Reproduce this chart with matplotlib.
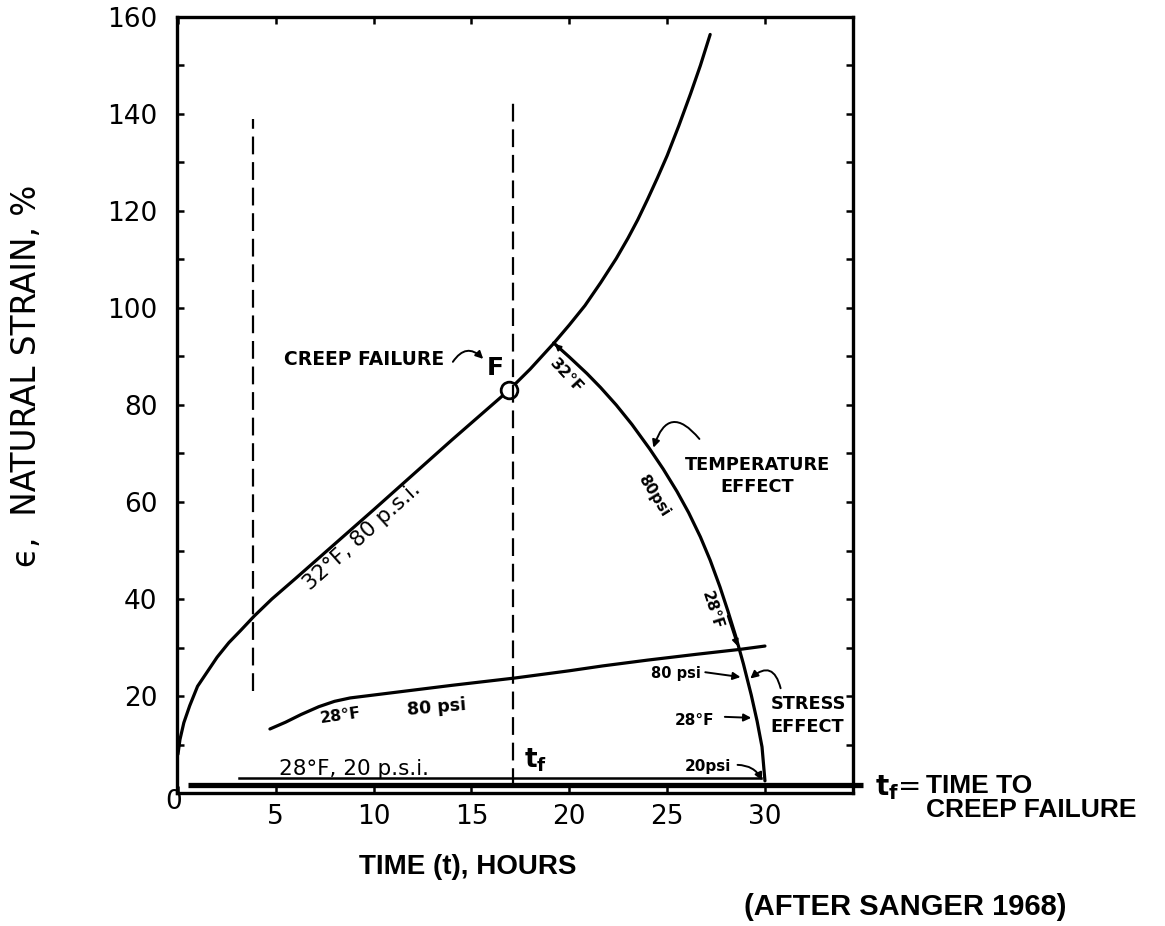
import numpy as np
import matplotlib.pyplot as plt
from matplotlib.patches import FancyArrowPatch

plt.rcParams['font.family'] = ['DejaVu Sans']

# creep curve at 32°F, 80 psi (runs on past failure point F)
t_32_80 = [0.0, 0.1, 0.3, 0.6, 1.0, 1.5, 2.0, 2.6, 3.2, 3.9, 4.8, 6.0, 8.0, 10.0, 12.0,
           14.0, 16.9, 18.0, 19.2, 20.0, 20.8, 21.6, 22.4, 23.0, 23.5, 24.0, 24.5, 25.0,
           25.6, 26.2, 26.7, 27.2]
e_32_80 = [8.0, 11.0, 14.5, 18.0, 22.0, 25.0, 28.0, 31.0, 33.5, 36.5, 40.0, 44.2, 51.3,
           58.4, 65.6, 72.8, 83.0, 87.4, 92.7, 96.5, 100.5, 105.2, 110.2, 114.4, 118.2,
           122.4, 126.8, 131.4, 137.6, 144.2, 150.0, 156.4]

# creep curve at 28°F, 80 psi
t_28_80 = [4.7, 5.5, 6.3, 7.2, 8.0, 8.8, 10.0, 12.0, 14.0, 17.2, 20.0, 21.7, 24.0, 26.5, 28.7, 30.0]
e_28_80 = [13.2, 14.6, 16.2, 17.8, 18.9, 19.6, 20.2, 21.2, 22.2, 23.7, 25.2, 26.2, 27.4, 28.6, 29.6, 30.3]

# temperature / stress effect path (failure times vs strain)
t_effect = [19.2, 20.0, 20.9, 21.6, 22.4, 23.2, 24.1, 24.8, 25.5, 26.1, 26.7, 27.2, 27.7,
            28.1, 28.5, 28.9, 29.3, 29.6, 29.85, 30.0]
e_effect = [92.8, 89.9, 86.5, 83.6, 80.0, 76.0, 71.0, 66.8, 62.2, 57.8, 52.8, 48.0, 42.5,
            37.6, 32.4, 26.6, 20.2, 14.8, 9.5, 2.5]

# 28°F, 20 psi curve and the heavy base line
t_28_20 = [3.1, 29.8]
e_28_20 = [3.1, 3.1]
t_base = [0.5, 35.0]
e_base = [1.6, 1.6]

# failure point and dashed time markers
t_fail, e_fail = 16.9, 83.0
t_tf, tf_top = 17.1, 143.0
t_early, early_top, early_bottom = 3.85, 139.0, 21.0

x_ticks = [5, 10, 15, 20, 25, 30]
y_ticks = [20, 40, 60, 80, 100, 120, 140, 160]

fig = plt.figure(figsize=(11.65, 9.26), dpi=100)
ax = fig.add_axes([177 / 1165, 1 - 793 / 926, 676 / 1165, 776 / 926])
ax.set_xlim(-0.05, 34.5)
ax.set_ylim(0, 160)

for s in ax.spines.values():
    s.set_linewidth(2.4)

ax.set_xticks(x_ticks)
ax.set_xticklabels([str(v) for v in x_ticks])
ax.set_xticks([0, 5, 10, 15, 20, 25, 30], minor=True)
ax.set_yticks(y_ticks)
ax.set_yticklabels([str(v) for v in y_ticks])
ax.set_yticks(np.arange(10, 160, 20), minor=True)
ax.tick_params(which='both', direction='in', length=5, width=1.8,
               top=True, right=True)
ax.tick_params(axis='x', labelsize=19, pad=8)
ax.tick_params(axis='y', labelsize=19, pad=14)

# curves
ax.plot(t_32_80, e_32_80, color='black', lw=2.3, solid_capstyle='round')
ax.plot(t_28_80, e_28_80, color='black', lw=2.3, solid_capstyle='round')
ax.plot(t_effect, e_effect, color='black', lw=2.3, solid_capstyle='round')
ax.plot(t_28_20, e_28_20, color='black', lw=1.8)
ax.plot(t_base, e_base, color='black', lw=3.8, solid_capstyle='butt', clip_on=False)

ax.plot([t_fail], [e_fail], marker='o', ms=12, mfc='white', mec='black', mew=2)

dash = (0, (8, 3.5))
ax.plot([t_tf, t_tf], [1.5, tf_top], color='black', lw=1.6, linestyle=dash)
ax.plot([t_early, t_early], [early_bottom, early_top], color='black', lw=1.6, linestyle=dash)


def arrow(p0, p1, rad=0.0, lw=1.4, scale=11):
    ax.add_patch(FancyArrowPatch(p0, p1, connectionstyle=f'arc3,rad={rad}',
                                 arrowstyle='-|>', mutation_scale=scale, lw=lw,
                                 color='black', shrinkA=0, shrinkB=0, clip_on=False))


# labels along the curves
ax.text(9.4, 53.0, '32°F, 80 p.s.i.', fontsize=15.5, rotation=42,
        rotation_mode='anchor', ha='center', va='center')
ax.text(9.5, 89.3, 'CREEP FAILURE', fontsize=13.5, fontweight='bold', ha='center', va='center')
arrow((14.05, 88.9), (15.6, 89.5), rad=-0.6)
ax.text(16.2, 87.6, 'F', fontsize=18, fontweight='bold', ha='center', va='center')

ax.text(19.85, 86.0, '32°F', fontsize=11.5, fontweight='bold', rotation=-47,
        rotation_mode='anchor', ha='center', va='center')
arrow((19.8, 90.6), (19.25, 92.6), scale=9)
ax.text(24.3, 61.4, '80psi', fontsize=11, fontweight='bold', rotation=-58,
        rotation_mode='anchor', ha='center', va='center')
ax.text(27.3, 37.7, '28°F', fontsize=11, fontweight='bold', rotation=-72,
        rotation_mode='anchor', ha='center', va='center')
arrow((28.1, 36.5), (28.6, 30.3), scale=9)

ax.text(29.6, 65.4, 'TEMPERATURE\nEFFECT', fontsize=12.8, fontweight='bold',
        ha='center', va='center', multialignment='center', linespacing=1.3)
arrow((26.65, 73.0), (24.3, 71.2), rad=0.9)

ax.text(8.3, 16.0, '28°F', fontsize=11.5, fontweight='bold', rotation=8,
        rotation_mode='anchor', ha='center', va='center')
ax.text(13.2, 17.7, '80 psi', fontsize=12.5, fontweight='bold', rotation=5,
        rotation_mode='anchor', ha='center', va='center')

ax.text(25.45, 24.7, '80 psi', fontsize=10.5, fontweight='bold', ha='center', va='center')
arrow((26.95, 24.9), (28.75, 23.9))
ax.text(32.2, 16.0, 'STRESS\nEFFECT', fontsize=12.8, fontweight='bold',
        ha='center', va='center', multialignment='left', linespacing=1.3)
arrow((30.8, 21.6), (29.25, 23.6), rad=0.8)
ax.text(26.4, 15.0, '28°F', fontsize=11, fontweight='bold', ha='center', va='center')
arrow((27.95, 15.7), (29.3, 15.5))
ax.text(27.1, 5.4, '20psi', fontsize=11, fontweight='bold', ha='center', va='center')
arrow((28.6, 5.8), (29.85, 2.6), rad=-0.3)

ax.text(9.0, 4.9, '28°F, 20 p.s.i.', fontsize=15.5, ha='center', va='center')
ax.text(18.3, 6.8, r'$\mathbf{t_f}$', fontsize=19, ha='center', va='center')
ax.text(-0.2, -1.9, '0', fontsize=19, ha='center', va='center', clip_on=False)

# text outside the frame
outer = ['Liberation Sans', 'DejaVu Sans']
fig.text(27 / 1165, 1 - 376 / 926, 'ϵ,  NATURAL STRAIN, %', rotation=90,
         fontsize=23.5, ha='center', va='center')
fig.text(468 / 1165, 1 - 867 / 926, 'TIME (t), HOURS', fontsize=20,
         fontweight='bold', family=outer, ha='center', va='center')
fig.text(920 / 1165, 1 - 788 / 926, r'$\mathbf{t_f}$=', fontsize=20,
         ha='right', va='center')
fig.text(926 / 1165, 1 - 798 / 926, 'TIME TO\nCREEP FAILURE', fontsize=19,
         fontweight='bold', family=outer, ha='left', va='center', linespacing=1.0)
fig.text(905 / 1165, 1 - 907 / 926, '(AFTER SANGER 1968)', fontsize=21,
         fontweight='bold', family=outer, ha='center', va='center')

plt.savefig('out.png', dpi=100)
